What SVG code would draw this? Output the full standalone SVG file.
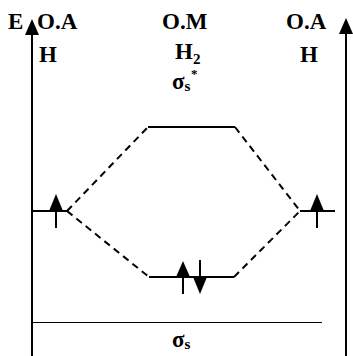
<svg xmlns="http://www.w3.org/2000/svg" width="353" height="356" viewBox="0 0 353 356">
<style>
.t{font-family:"Liberation Serif","Times New Roman",serif;font-weight:bold;font-size:23px;fill:#000}
.sub{font-size:15px}
.star{font-size:13px}
.lv{stroke:#000;stroke-width:2;fill:none}
.ax{stroke:#000;stroke-width:2;fill:none}
.ds{stroke:#000;stroke-width:2;stroke-dasharray:7 5;fill:none}
.hd{fill:#000}
</style>
<rect width="353" height="356" fill="#fff"/>
<g id="axes">
<line class="ax" x1="32" y1="356" x2="32" y2="34"/>
<polygon class="hd" points="25,35 39,35 32,19"/>
<line class="ax" x1="346" y1="356" x2="346" y2="32"/>
<polygon class="hd" points="339,34 353,34 346,18"/>
<line x1="32" y1="322.5" x2="322" y2="322.5" stroke="#000" stroke-width="1"/>
</g>
<g id="labels">
<text class="t" x="8" y="29">E</text>
<text class="t" x="37" y="29">O.A</text>
<text class="t" x="39" y="62">H</text>
<text class="t" x="162" y="29">O.M</text>
<text class="t" x="175" y="59">H<tspan class="sub" dy="5">2</tspan></text>
<text class="t" x="286" y="29">O.A</text>
<text class="t" x="300" y="62">H</text>
</g>
<g id="ao-left">
<line class="lv" x1="32" y1="211" x2="67" y2="211"/>
<line class="lv" x1="56" y1="211" x2="56" y2="228"/>
<polygon class="hd" points="49,211 63,211 56,194"/>
</g>
<g id="ao-right">
<line class="lv" x1="300" y1="211" x2="335" y2="211"/>
<line class="lv" x1="317" y1="211" x2="317" y2="228"/>
<polygon class="hd" points="310,211 324,211 317,194"/>
</g>
<g id="mo-antibonding">
<line class="lv" x1="148" y1="127" x2="235" y2="127"/>
<text class="t" x="172" y="89">σ<tspan class="sub" dy="2">s</tspan></text>
<text class="t star" x="191" y="78">*</text>
</g>
<g id="mo-bonding">
<line class="lv" x1="149" y1="277" x2="234" y2="277"/>
<line class="lv" x1="183" y1="277" x2="183" y2="294"/>
<polygon class="hd" points="176,277 190,277 183,261"/>
<line class="lv" x1="200" y1="260" x2="200" y2="277"/>
<polygon class="hd" points="193,277 207,277 200,294"/>
<text class="t" x="172" y="347">σ<tspan class="sub" dy="2">s</tspan></text>
</g>
<g id="connectors">
<line class="ds" x1="67" y1="211" x2="148" y2="127"/>
<line class="ds" x1="67" y1="211" x2="149" y2="277"/>
<line class="ds" x1="235" y1="127" x2="300" y2="211"/>
<line class="ds" x1="234" y1="277" x2="300" y2="211"/>
</g>
</svg>
